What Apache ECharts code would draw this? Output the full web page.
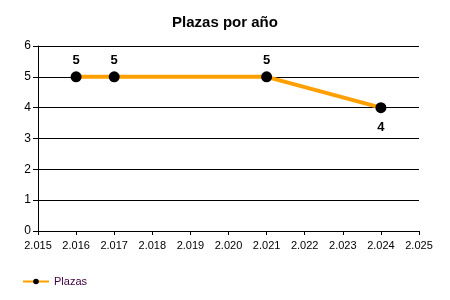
<!DOCTYPE html>
<html><head><meta charset="utf-8">
<script src="https://cdn.jsdelivr.net/npm/echarts@6/dist/echarts.min.js"></script>
<style>html,body{margin:0;padding:0;background:#fff}#c{width:450px;height:300px}</style>
</head><body><div id="c"></div>
<script>
const years = [2016, 2017, 2021, 2024];
const plazas = [5, 5, 5, 4];
const xTicks = [2015, 2025];
const yTicks = [0, 6];
const seriesName = 'Plazas';
const chart = echarts.init(document.getElementById('c'), null, {renderer: 'canvas'});
const font = 'Liberation Sans';
const data = years.map((y, i) => {
  const d = {value: [y, plazas[i]]};
  if (i === years.length - 1) d.label = {position: 'bottom', distance: 8};
  return d;
});
chart.setOption({
  animation: false,
  backgroundColor: '#fff',
  color: ['#FFA000'],
  title: {text: 'Plazas por año', left: 'center', top: 10,
    textStyle: {fontFamily: font, fontWeight: 'bold', fontSize: 15, color: '#000'}},
  grid: {left: 38, right: 31, top: 46, bottom: 69, containLabel: false},
  legend: {left: 17, top: 271, itemWidth: 26, itemHeight: 7, itemGap: 5,
    textStyle: {fontFamily: font, fontSize: 11, color: '#400040'},
    data: [seriesName]},
  xAxis: {type: 'value', min: xTicks[0], max: xTicks[1], interval: 1,
    axisLine: {lineStyle: {color: '#000', width: 1}},
    axisTick: {show: true, length: 4, lineStyle: {color: '#000'}},
    splitLine: {show: false},
    axisLabel: {fontFamily: font, fontSize: 11, color: '#000', margin: 9,
      formatter: v => { const s = String(v); return s.slice(0,1) + '.' + s.slice(1); }}},
  yAxis: {type: 'value', min: yTicks[0], max: yTicks[1], interval: 1,
    axisLine: {show: true, lineStyle: {color: '#000', width: 1}},
    axisTick: {show: true, length: 5, lineStyle: {color: '#000'}},
    splitLine: {show: true, lineStyle: {color: '#000', width: 1}},
    axisLabel: {fontFamily: font, fontSize: 12, color: '#000', margin: 7}},
  series: [{
    name: seriesName, type: 'line',
    data: data,
    lineStyle: {color: '#FFA000', width: 4},
    itemStyle: {color: '#000', borderWidth: 0},
    symbol: 'circle', symbolSize: 11,
    label: {show: true, position: 'top', distance: 4, fontFamily: font, fontWeight: 'bold', fontSize: 13, color: '#000',
      formatter: p => String(p.value[1])},
    emphasis: {disabled: true}
  }]
});
</script></body></html>
